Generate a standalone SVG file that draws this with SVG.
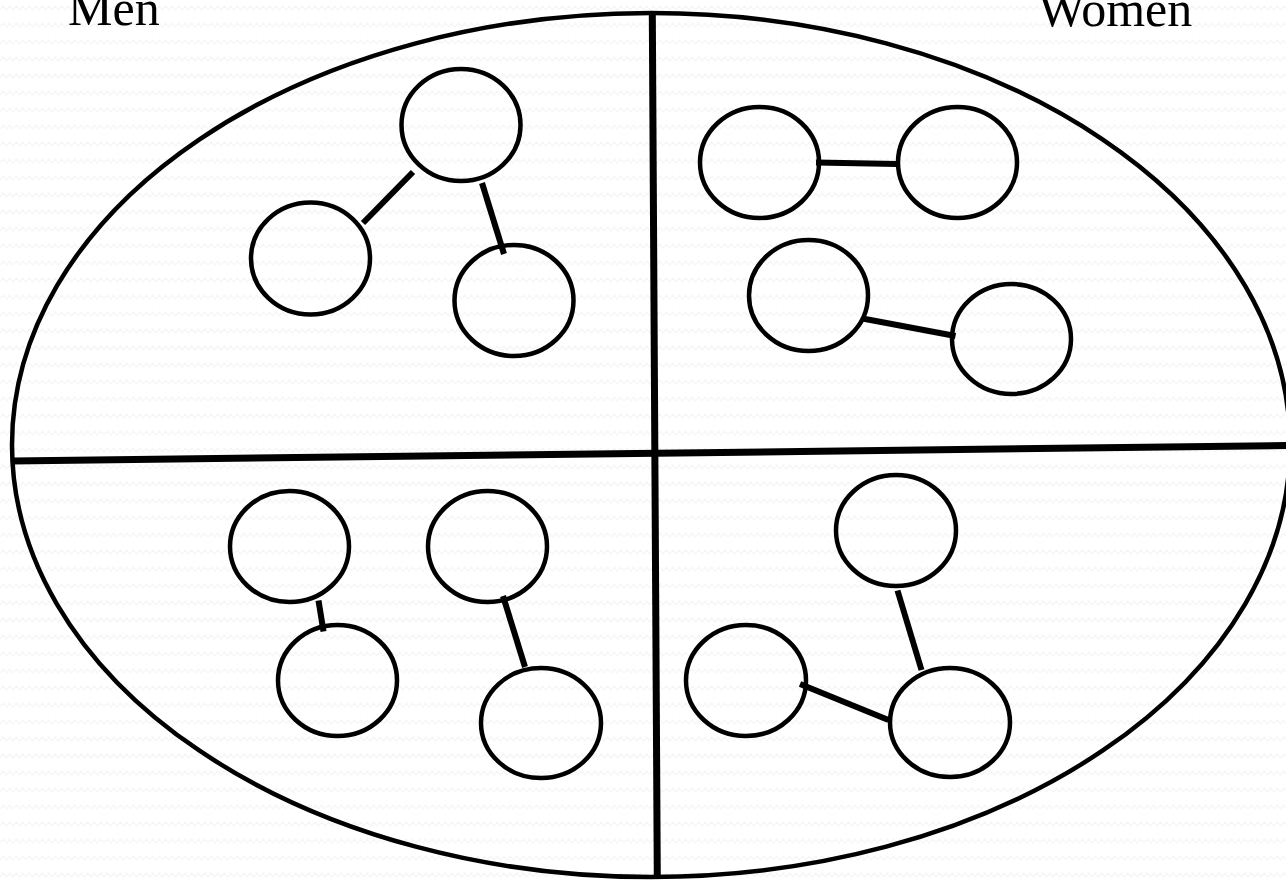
<svg xmlns="http://www.w3.org/2000/svg" width="1286" height="880" viewBox="0 0 1286 880">
  <defs>
    <pattern id="bg" width="13" height="17" patternUnits="userSpaceOnUse">
      <path d="M0,10 L3.25,6 L6.5,10 L9.75,6 L13,10" fill="none" stroke="#f6f6f6" stroke-width="1.2"/>
    </pattern>
    <style>
      .node { fill: none; stroke: #000; stroke-width: 4.5; }
      .link { stroke: #000; stroke-width: 6; fill: none; }
      .div { stroke: #000; stroke-width: 7; fill: none; }
      .label { font-family: "Liberation Serif", "Times New Roman", serif; font-size: 50px; fill: #000; }
    </style>
  </defs>
  <rect width="1286" height="880" fill="#ffffff"/>
  <rect width="1286" height="880" fill="url(#bg)"/>

  <g id="labels">
    <text class="label" x="68" y="25">Men</text>
    <text class="label" x="1038" y="26">Women</text>
  </g>

  <g id="oval">
    <ellipse cx="651" cy="445" rx="639" ry="432" fill="none" stroke="#000" stroke-width="4.5"/>
    <line class="div" x1="12" y1="461" x2="1290" y2="445.5"/>
    <line class="div" x1="652.3" y1="12" x2="657.3" y2="877"/>
  </g>

  <g id="connectors">
    <line class="link" x1="413" y1="172" x2="363" y2="223"/>
    <line class="link" x1="482" y1="183" x2="504" y2="254"/>
    <line class="link" x1="816" y1="162.5" x2="897" y2="164"/>
    <line class="link" x1="862.5" y1="318.5" x2="955.5" y2="336"/>
    <line class="link" x1="318.5" y1="600.5" x2="323.5" y2="631.5"/>
    <line class="link" x1="503" y1="596" x2="525" y2="667"/>
    <line class="link" x1="897.5" y1="590.5" x2="921.5" y2="670"/>
    <line class="link" x1="800" y1="684" x2="888.5" y2="720"/>
  </g>

  <g id="node-m1"><ellipse class="node" cx="461" cy="125" rx="59.5" ry="56"/></g>
  <g id="node-m2"><ellipse class="node" cx="310.5" cy="258.5" rx="59.5" ry="56"/></g>
  <g id="node-m3"><ellipse class="node" cx="514" cy="300.5" rx="59.5" ry="55.5"/></g>

  <g id="node-w1"><ellipse class="node" cx="759.5" cy="162.5" rx="59.5" ry="55.5"/></g>
  <g id="node-w2"><ellipse class="node" cx="957.5" cy="162.5" rx="59.5" ry="55.5"/></g>
  <g id="node-w3"><ellipse class="node" cx="808.5" cy="295.5" rx="59.5" ry="55.5"/></g>
  <g id="node-w4"><ellipse class="node" cx="1011.5" cy="339" rx="59.5" ry="55"/></g>

  <g id="node-b1"><ellipse class="node" cx="289.5" cy="546.5" rx="59.5" ry="55.5"/></g>
  <g id="node-b2"><ellipse class="node" cx="337.5" cy="680.5" rx="59.5" ry="55.5"/></g>
  <g id="node-b3"><ellipse class="node" cx="487.5" cy="546.5" rx="59.5" ry="55.5"/></g>
  <g id="node-b4"><ellipse class="node" cx="541" cy="723" rx="60" ry="55"/></g>

  <g id="node-c1"><ellipse class="node" cx="896" cy="530.5" rx="60" ry="55.5"/></g>
  <g id="node-c2"><ellipse class="node" cx="746" cy="680.5" rx="60" ry="55.5"/></g>
  <g id="node-c3"><ellipse class="node" cx="950" cy="722.5" rx="60" ry="54.5"/></g>
</svg>
